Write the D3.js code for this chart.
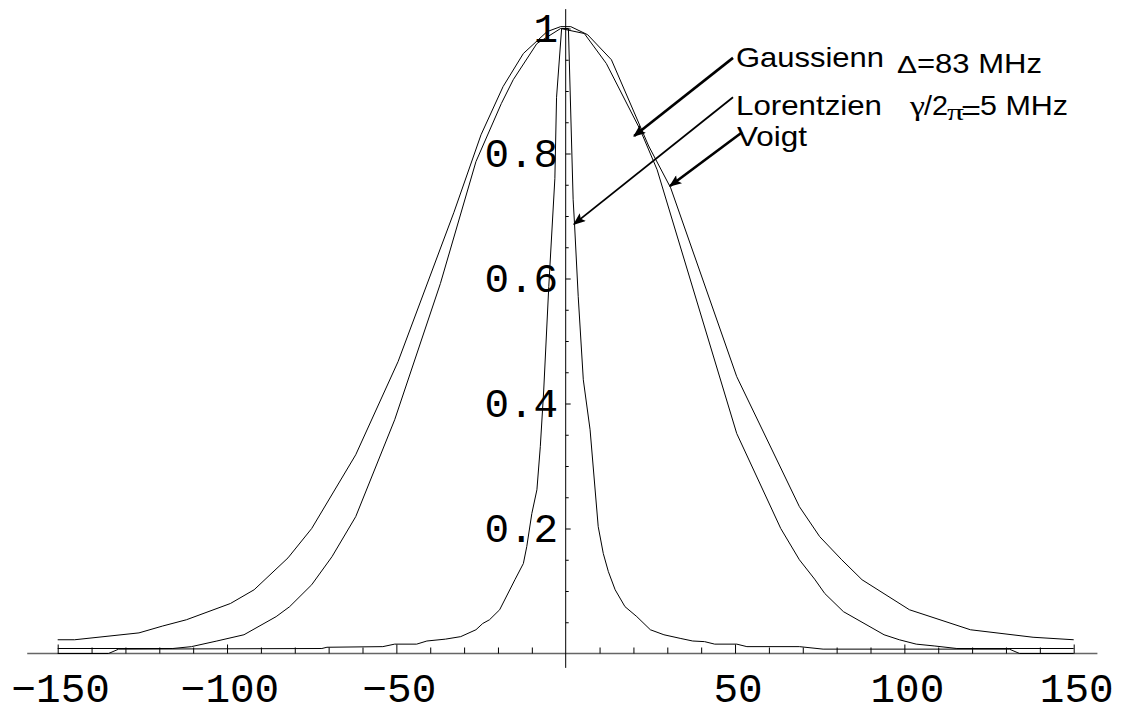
<!DOCTYPE html>
<html>
<head>
<meta charset="utf-8">
<script src="https://cdn.jsdelivr.net/npm/d3@7"></script>
<style>
  body { margin: 0; background: #fff; }
  svg { display: block; }
  .tick line { stroke: #000; }
</style>
</head>
<body>
<svg id="chart" width="1122" height="709"></svg>
<script>
// data
var voigtX = [-150, -145, -126, -119, -112, -99, -92, -82, -75, -62, -49.5, -33, -25, -18.5, -12.5, -5.5, -1.5, 1.5, 6.5, 13.5, 24.5, 31, 50.5, 69, 75, 81.5, 87.5, 101.5, 119.5, 138, 150];
var voigtY = [0.022, 0.022, 0.033, 0.044, 0.054, 0.080, 0.102, 0.153, 0.200, 0.318, 0.467, 0.706, 0.830, 0.907, 0.960, 0.995, 1.003, 1.003, 0.990, 0.950, 0.812, 0.745, 0.443, 0.235, 0.187, 0.150, 0.118, 0.070, 0.038, 0.026, 0.022];

var gaussX = [-150, -116, -110.5, -103, -95, -85.5, -81.5, -75, -69, -62, -50.5, -37, -26.5, -19, -15.5, -8.5, -1.5, 5.5, 12, 22, 27, 50.5, 63.5, 69, 73.5, 76.5, 82, 94, 98.5, 103.5, 109, 115.5, 150];
var gaussY = [0.008, 0.008, 0.011, 0.020, 0.030, 0.059, 0.075, 0.110, 0.155, 0.219, 0.374, 0.592, 0.787, 0.880, 0.918, 0.976, 1.0, 0.992, 0.944, 0.838, 0.774, 0.352, 0.200, 0.150, 0.119, 0.096, 0.067, 0.030, 0.022, 0.015, 0.012, 0.008, 0.008];

var lorentzX = [-150, -135, -132, -72, -70.5, -54, -50.5, -44, -41, -35.5, -31, -26.5, -24.5, -22.5, -19.5, -15, -12.5, -11.5, -10, -8.5, -7.5, -6.5, -5, -3.2, -2.7, -1.2, 0.8, 2.2, 2.6, 3.7, 5.2, 7.2, 9.6, 11.1, 12.6, 14.6, 17.5, 21, 25, 29, 34, 37.5, 41, 44, 50.5, 53.5, 69, 76, 131, 134, 150];
var lorentzY = [0, 0, 0.007, 0.008, 0.010, 0.011, 0.015, 0.015, 0.020, 0.023, 0.027, 0.038, 0.048, 0.054, 0.070, 0.118, 0.144, 0.171, 0.224, 0.262, 0.331, 0.420, 0.587, 0.760, 0.890, 1.0, 1.0, 0.726, 0.688, 0.571, 0.438, 0.358, 0.203, 0.160, 0.131, 0.102, 0.075, 0.059, 0.038, 0.030, 0.024, 0.020, 0.019, 0.015, 0.015, 0.011, 0.011, 0.007, 0.007, 0, 0];

var xTickLabels = [-150, -100, -50, 50, 100, 150];
var yTickLabels = ["0.2", "0.4", "0.6", "0.8", "1"];

// arrows: [tailX, tailY, tipX, tipY] in data units
var arrowGauss = [49.4, 0.953, 20.2, 0.828];
var arrowLorentz = [49.4, 0.890, 2.45, 0.687];
var arrowVoigt = [52.1, 0.834, 30.8, 0.748];

var svg = d3.select("#chart");

var x = d3.scaleLinear().domain([-150, 150]).range([57.7, 1073.7]);
var y = d3.scaleLinear().domain([0, 1]).range([653.5, 28.5]);

// axis lines
svg.append("line")
  .attr("x1", x(-159)).attr("x2", x(157))
  .attr("y1", y(0)).attr("y2", y(0))
  .attr("stroke", "#666").attr("stroke-width", 1.4);

svg.append("line")
  .attr("x1", x(0)).attr("x2", x(0))
  .attr("y1", y(1.031)).attr("y2", y(-0.023))
  .attr("stroke", "#000").attr("stroke-width", 1);

// x ticks, pointing up
var xMinor = d3.range(-150, 151, 10).filter(function(v) { return v % 50 !== 0; });
var xMajor = xTickLabels;

var gx1 = svg.append("g").attr("transform", "translate(0," + y(0) + ")")
  .call(d3.axisTop(x).tickValues(xMinor).tickSize(6).tickSizeOuter(0).tickFormat(""));
var gx2 = svg.append("g").attr("transform", "translate(0," + y(0) + ")")
  .call(d3.axisTop(x).tickValues(xMajor).tickSize(9).tickSizeOuter(0).tickFormat(""));
gx1.select(".domain").remove();
gx2.select(".domain").remove();

// y ticks, pointing right
var yMinor = d3.range(1, 21).map(function(i) { return i * 0.05; }).filter(function(v, i) { return (i + 1) % 4 !== 0; });
var yMajor = [0.2, 0.4, 0.6, 0.8, 1.0];

var gy1 = svg.append("g").attr("transform", "translate(" + x(0) + ",0)")
  .call(d3.axisRight(y).tickValues(yMinor).tickSize(3).tickSizeOuter(0).tickFormat(""));
var gy2 = svg.append("g").attr("transform", "translate(" + x(0) + ",0)")
  .call(d3.axisRight(y).tickValues(yMajor).tickSize(5).tickSizeOuter(0).tickFormat(""));
gy1.select(".domain").remove();
gy2.select(".domain").remove();

// tick labels, Courier-like
svg.selectAll(".xlab").data(xTickLabels).enter().append("text")
  .attr("class", "xlab")
  .attr("x", function(d) { return x(d) + 3; })
  .attr("y", 702)
  .attr("text-anchor", "middle")
  .style("font-family", "'Liberation Mono', 'DejaVu Sans Mono', monospace")
  .style("font-size", "41px")
  .text(function(d) { return d < 0 ? "\u2212" + Math.abs(d) : d; });

svg.selectAll(".ylab").data(yTickLabels).enter().append("text")
  .attr("class", "ylab")
  .attr("x", x(0) - 7.5)
  .attr("y", function(d) { return y(+d) + 13.5; })
  .attr("text-anchor", "end")
  .style("font-family", "'Liberation Mono', 'DejaVu Sans Mono', monospace")
  .style("font-size", "41px")
  .text(function(d) { return d; });

// curves
var line = d3.line()
  .x(function(d) { return x(d[0]); })
  .y(function(d) { return y(d[1]); });

function pairs(xs, ys) {
  return xs.map(function(v, i) { return [v, ys[i]]; });
}

[[voigtX, voigtY], [gaussX, gaussY], [lorentzX, lorentzY]].forEach(function(s) {
  svg.append("path")
    .datum(pairs(s[0], s[1]))
    .attr("d", line)
    .attr("fill", "none")
    .attr("stroke", "#000")
    .attr("stroke-width", 1)
    .attr("stroke-linejoin", "round");
});

// arrows
var defs = svg.append("defs");
defs.append("marker")
  .attr("id", "head")
  .attr("viewBox", "0 0 10 8")
  .attr("refX", 9).attr("refY", 4)
  .attr("markerUnits", "userSpaceOnUse")
  .attr("markerWidth", 13).attr("markerHeight", 10)
  .attr("orient", "auto")
  .append("path")
  .attr("d", "M0,0 L10,4 L0,8 L2,4 Z")
  .attr("fill", "#000");

function arrow(a, w) {
  svg.append("line")
    .attr("x1", x(a[0])).attr("y1", y(a[1]))
    .attr("x2", x(a[2])).attr("y2", y(a[3]))
    .attr("stroke", "#000")
    .attr("stroke-width", w)
    .attr("marker-end", "url(#head)");
}
arrow(arrowGauss, 2.6);
arrow(arrowLorentz, 1.8);
arrow(arrowVoigt, 2.6);

// annotation text
var sans = "'Liberation Sans', Arial, Helvetica, sans-serif";
var ann = svg.append("g").style("font-family", sans).style("font-size", "28px");

function piece(txt, px, py, len, size, fam) {
  var t = ann.append("text")
    .attr("x", px).attr("y", py)
    .attr("textLength", len)
    .attr("lengthAdjust", "spacingAndGlyphs")
    .text(txt);
  if (size) t.style("font-size", size + "px");
  if (fam) t.style("font-family", fam);
  return t;
}

piece("Gaussienn", 736, 67, 148);
piece("\u0394", 897, 73, 20, 24);
piece("=83 MHz", 917, 73, 125);
piece("Lorentzien", 736, 115, 146);
piece("\u03b3", 910, 115, 15, 28, "'Liberation Serif', serif");
piece("/2", 924, 115, 24);
piece("\u03c0", 947, 120, 17, 24, "'Liberation Serif', serif");
piece("=", 961, 120, 20);
piece("5 MHz", 980, 115, 88);
piece("Voigt", 737, 146, 70);
</script>
</body>
</html>
